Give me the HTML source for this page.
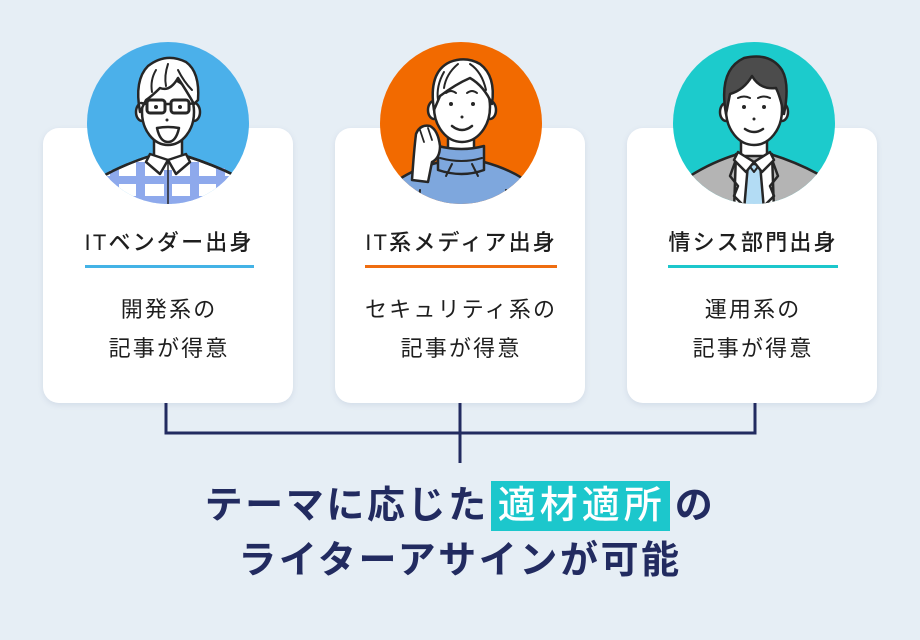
<!DOCTYPE html>
<html lang="ja">
<head>
<meta charset="utf-8">
<style>
  html,body{margin:0;padding:0;}
  body{width:920px;height:640px;background:#e6eef5;position:relative;overflow:hidden;
    font-family:"Liberation Sans","Noto Sans CJK JP",sans-serif;color:#1e1e1e;}
  .card{position:absolute;top:128px;width:250px;height:275px;background:#fff;border-radius:16px;
    box-shadow:0 2px 6px rgba(120,140,170,0.18);}
  .title{position:absolute;left:0;right:0;top:228px;text-align:center;}
  .title span{display:inline-block;font-size:22px;line-height:30px;letter-spacing:2.2px;
    font-weight:500;padding-bottom:7px;border-bottom:3px solid;margin-right:-2.2px;}
  .body{position:absolute;left:0;right:0;top:290px;text-align:center;font-size:22px;line-height:39px;
    letter-spacing:2.2px;}
  .body div{margin-right:-2.2px;}
  .head{position:absolute;left:0;right:0;text-align:center;font-size:38px;font-weight:700;color:#222b60;
    letter-spacing:2.6px;line-height:56px;white-space:nowrap;}
  .hl{display:inline-block;background:#1cc7cc;color:#fff;font-weight:500;padding:0 4px 0 7px;
    line-height:50px;letter-spacing:4px;margin:0 5px 0 2px;}
</style>
</head>
<body>
  <div class="card" style="left:43px"></div>
  <div class="card" style="left:335px"></div>
  <div class="card" style="left:627px"></div>

  <svg width="920" height="640" style="position:absolute;left:0;top:0" xmlns="http://www.w3.org/2000/svg">
    <defs>
      <clipPath id="c1"><circle cx="168" cy="123" r="81"/></clipPath>
      <clipPath id="c2"><circle cx="461" cy="123" r="81"/></clipPath>
      <clipPath id="c3"><circle cx="754" cy="123" r="81"/></clipPath>
    </defs>

    <!-- Avatar 1 -->
    <circle cx="168" cy="123" r="81" fill="#4bb0ea"/>
    <g clip-path="url(#c1)" stroke="#262626" stroke-width="2.5" stroke-linejoin="round" stroke-linecap="round">
      <path d="M96 210 L100 178 Q120 166 150 156 L186 156 Q214 165 236 176 L240 210 Z" fill="#fff"/>
      <g stroke="none" fill="#8ea9ec">
        <rect x="110" y="170" width="9" height="40"/>
        <rect x="136" y="162" width="9" height="48"/>
        <rect x="164" y="170" width="8" height="40"/>
        <rect x="190" y="162" width="9" height="48"/>
        <rect x="216" y="168" width="9" height="42"/>
        <rect x="100" y="176" width="140" height="8"/>
        <rect x="100" y="196" width="140" height="8"/>
      </g>
      <path d="M100 178 Q120 166 150 156 M186 156 Q214 165 236 176" fill="none"/>
      <path d="M168 160 L168 210" fill="none" stroke-width="1.5"/>
      <rect x="154" y="134" width="28" height="26" fill="#fff"/>
      <path d="M150 154 L168 160 L160 174 L146 162 Z" fill="#fff"/>
      <path d="M186 154 L168 160 L176 174 L190 162 Z" fill="#fff"/>
      <ellipse cx="142" cy="112" rx="6" ry="9" fill="#fff"/>
      <ellipse cx="194" cy="112" rx="6" ry="9" fill="#fff"/>
      <ellipse cx="168" cy="112" rx="26" ry="33" fill="#fff"/>
      <path d="M140 112 Q134 80 148 66 Q166 52 186 62 Q200 72 198 100 L194 104 Q186 90 178 78 Q170 92 160 88 Q152 96 146 100 Z" fill="#fff"/>
      <path d="M156 70 Q150 80 152 92 M168 64 Q164 76 166 86 M178 70 Q184 82 192 90" fill="none" stroke-width="2"/>
      <rect x="147" y="100" width="18" height="13" rx="3" fill="none" stroke-width="3"/>
      <rect x="171" y="100" width="18" height="13" rx="3" fill="none" stroke-width="3"/>
      <path d="M165 104 L171 104 M147 104 L141 103 M189 104 L195 103" fill="none" stroke-width="2.5"/>
      <circle cx="156" cy="107" r="2" fill="#262626" stroke="none"/>
      <circle cx="180" cy="107" r="2" fill="#262626" stroke="none"/>
      <circle cx="167" cy="120" r="1.5" fill="#262626" stroke="none"/>
      <path d="M157 128 Q168 126 179 128 Q176 142 168 142 Q160 142 157 128 Z" fill="#fff"/>
    </g>

    <!-- Avatar 2 -->
    <circle cx="461" cy="123" r="81" fill="#f26a00"/>
    <g clip-path="url(#c2)" stroke="#262626" stroke-width="2.5" stroke-linejoin="round" stroke-linecap="round">
      <path d="M392 212 L398 180 Q416 168 440 162 L484 162 Q506 168 522 178 L530 212 Z" fill="#7ea7dd"/>
      <path d="M420 190 L418 212 M506 190 L508 212" fill="none" stroke-width="2"/>
      <rect x="448" y="128" width="26" height="24" fill="#fff"/>
      <path d="M438 146 Q462 152 484 146 L484 170 Q462 178 438 170 Z" fill="#7ea7dd"/>
      <path d="M440 158 Q462 164 482 158" fill="none" stroke-width="2"/>
      <path d="M452 164 L446 176 M472 164 L478 176" fill="none" stroke-width="2"/>
      <ellipse cx="434" cy="110" rx="6" ry="9" fill="#fff"/>
      <ellipse cx="490" cy="110" rx="6" ry="9" fill="#fff"/>
      <ellipse cx="462" cy="107" rx="28" ry="35" fill="#fff"/>
      <path d="M434 110 Q428 72 450 62 Q466 56 480 64 Q496 76 492 104 Q484 86 470 78 Q456 84 440 96 Z" fill="#fff"/>
      <path d="M444 72 Q436 86 438 100 M458 64 Q446 74 444 88 M470 64 Q482 72 486 90" fill="none" stroke-width="2"/>
      <path d="M412 180 Q414 150 416 134 Q420 124 430 126 Q438 130 440 146 Q440 158 432 162 L428 182 Z" fill="#fff"/>
      <path d="M420 130 L424 142 M428 128 L432 140" fill="none" stroke-width="1.8"/>
      <path d="M446 93 Q451 89 456 93 M467 93 Q472 89 477 93" fill="none" stroke-width="2"/>
      <circle cx="451" cy="104" r="2" fill="#262626" stroke="none"/>
      <circle cx="473" cy="104" r="2" fill="#262626" stroke="none"/>
      <circle cx="462" cy="117" r="1.5" fill="#262626" stroke="none"/>
      <path d="M452 126 Q462 134 472 126" fill="none"/>
    </g>

    <!-- Avatar 3 -->
    <circle cx="754" cy="123" r="81" fill="#1ccbcc"/>
    <g clip-path="url(#c3)" stroke="#262626" stroke-width="2.5" stroke-linejoin="round" stroke-linecap="round">
      <path d="M684 210 L690 176 Q712 162 738 154 L770 154 Q796 162 818 174 L824 210 Z" fill="#b4b4b4"/>
      <path d="M736 154 L754 162 L772 154 L774 210 L734 210 Z" fill="#fff"/>
      <path d="M738 154 L730 176 L738 186 L734 196 L748 210 M770 154 L778 176 L770 186 L774 196 L760 210" fill="none"/>
      <path d="M748 164 L760 164 L764 210 L744 210 Z" fill="#b3dcf4"/>
      <path d="M748 164 L754 172 L760 164" fill="none" stroke-width="2"/>
      <rect x="741" y="132" width="26" height="24" fill="#fff"/>
      <path d="M738 152 L754 162 L746 172 L734 160 Z M770 152 L754 162 L762 172 L774 160 Z" fill="#fff"/>
      <ellipse cx="726" cy="112" rx="6" ry="9" fill="#fff"/>
      <ellipse cx="782" cy="112" rx="6" ry="9" fill="#fff"/>
      <ellipse cx="754" cy="110" rx="28" ry="35" fill="#fff"/>
      <path d="M726 114 Q718 70 744 58 Q770 52 782 70 Q790 84 784 114 Q780 96 776 88 Q760 90 752 76 Q744 90 730 94 Z" fill="#4c4c4c"/>
      <path d="M738 98 Q744 95 750 98 M758 98 Q764 95 770 98" fill="none" stroke-width="2"/>
      <circle cx="744" cy="107" r="2" fill="#262626" stroke="none"/>
      <circle cx="764" cy="107" r="2" fill="#262626" stroke="none"/>
      <circle cx="754" cy="119" r="1.5" fill="#262626" stroke="none"/>
      <path d="M745 129 Q754 135 763 129" fill="none"/>
    </g>

    <!-- Connectors -->
    <path d="M166 403 V433 H755 V403" fill="none" stroke="#222b60" stroke-width="3"/>
    <path d="M460 403 V463" fill="none" stroke="#222b60" stroke-width="3"/>
  </svg>

  <!-- Card texts -->
  <div style="position:absolute;left:43px;width:250px;top:0;height:640px">
    <div class="title"><span style="border-color:#44b3e6">ITベンダー出身</span></div>
    <div class="body"><div>開発系の</div><div>記事が得意</div></div>
  </div>
  <div style="position:absolute;left:335px;width:250px;top:0;height:640px">
    <div class="title"><span style="border-color:#ef6d10">IT系メディア出身</span></div>
    <div class="body"><div>セキュリティ系の</div><div>記事が得意</div></div>
  </div>
  <div style="position:absolute;left:627px;width:250px;top:0;height:640px">
    <div class="title"><span style="border-color:#1cc7cc">情シス部門出身</span></div>
    <div class="body"><div>運用系の</div><div>記事が得意</div></div>
  </div>

  <div class="head" style="top:478px">テーマに応じた<span class="hl">適材適所</span>の</div>
  <div class="head" style="top:533px">ライターアサインが可能</div>
</body>
</html>
